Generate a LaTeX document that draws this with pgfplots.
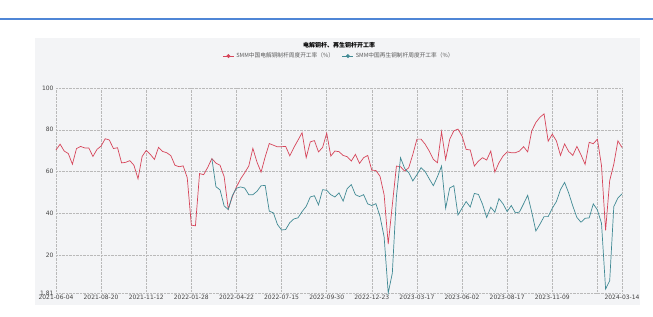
\documentclass[border=0pt]{standalone}
\usepackage{fontspec}
\setmainfont{DejaVu Sans}
\newfontfamily\cjk{Noto Sans CJK SC}
\usepackage{pgfplots}
\usepackage{pgfplotstable}
\pgfplotsset{compat=1.18}
\definecolor{cred}{HTML}{D6455A}
\definecolor{cteal}{HTML}{418A94}
\definecolor{panel}{HTML}{F3F4F6}
\definecolor{topblue}{HTML}{4F86D6}
\definecolor{ticktext}{HTML}{444444}

\pgfplotstableread{
idx val
0 70.3
1 73.1
2 69.8
3 68.6
4 63.5
5 71.0
6 72.0
7 71.3
8 71.3
9 67.2
10 70.6
11 72.2
12 75.7
13 75.1
14 71.0
15 71.4
16 64.1
17 64.4
18 65.2
19 63.0
20 56.5
21 67.2
22 70.1
23 68.2
24 65.8
25 71.6
26 69.6
27 69.0
28 67.6
29 63.0
30 62.3
31 62.7
32 57.0
33 34.3
34 34.0
35 59.0
36 58.5
37 62.0
38 66.2
39 64.0
40 63.0
41 57.5
42 42.0
43 48.0
44 52.6
45 56.4
46 59.4
47 62.6
48 71.1
49 64.5
50 59.7
51 67.0
52 73.4
53 72.6
54 71.8
55 71.9
56 72.0
57 67.5
58 71.5
59 75.0
60 78.6
61 66.6
62 74.2
63 74.8
64 69.4
65 71.5
66 78.4
67 67.4
68 69.8
69 69.5
70 67.7
71 67.1
72 65.0
73 68.2
74 63.9
75 66.6
76 67.7
77 60.6
78 60.5
79 57.7
80 48.9
81 25.2
82 44.0
83 62.6
84 62.3
85 60.2
86 61.8
87 68.2
88 75.5
89 75.5
90 73.1
91 69.8
92 65.8
93 64.2
94 79.0
95 65.8
96 75.5
97 79.5
98 80.3
99 77.0
100 70.6
101 70.3
102 62.6
103 65.0
104 66.6
105 65.5
106 69.8
107 59.7
108 64.2
109 67.4
110 69.4
111 69.0
112 69.0
113 69.8
114 71.9
115 69.4
116 79.5
117 83.5
118 86.0
119 87.6
120 74.5
121 77.9
122 74.7
123 67.7
124 73.2
125 69.6
126 67.7
127 72.0
128 68.0
129 63.4
130 74.0
131 73.3
132 75.5
133 62.8
134 31.8
135 55.7
136 63.5
137 74.7
138 71.5
}\redtable

\pgfplotstableread{
idx val
38 66.2
39 52.7
40 51.2
41 43.5
42 41.8
43 48.5
44 52.0
45 52.6
46 52.1
47 48.9
48 48.9
49 50.5
50 53.2
51 53.3
52 41.0
53 40.2
54 34.6
55 32.0
56 32.2
57 35.5
58 37.3
59 37.8
60 40.8
61 43.3
62 47.8
63 48.4
64 44.0
65 51.3
66 51.0
67 48.9
68 47.8
69 49.8
70 45.8
71 51.8
72 53.7
73 48.9
74 48.0
75 48.9
76 44.5
77 43.7
78 44.6
79 38.5
80 28.7
81 1.81
82 11.3
83 48.0
84 66.6
85 61.5
86 59.5
87 55.5
88 58.5
89 61.8
90 60.0
91 56.5
92 53.2
93 57.5
94 62.6
95 42.4
96 52.1
97 53.2
98 39.2
99 42.4
100 45.6
101 43.0
102 49.5
103 49.0
104 44.3
105 38.0
106 42.9
107 40.5
108 47.0
109 44.5
110 40.8
111 43.7
112 40.2
113 40.6
114 44.5
115 48.6
116 40.5
117 31.5
118 34.8
119 38.4
120 38.4
121 42.4
122 45.6
123 51.3
124 54.8
125 49.7
126 43.5
127 38.0
128 35.7
129 37.6
130 37.8
131 44.5
132 41.6
133 35.2
134 3.7
135 7.7
136 43.2
137 47.3
138 49.3
}\greentable

\begin{document}
\begin{tikzpicture}
\path[use as bounding box] (0pt,0pt) rectangle (653pt,316pt);
\fill[white] (0pt,0pt) rectangle (653pt,316pt);
\fill[panel] (35pt,11pt) rectangle (640pt,278pt);
\draw[topblue, line width=2pt] (0pt,297pt) -- (653pt,297pt);
\begin{axis}[
  at={(56pt,23pt)}, anchor=south west,
  scale only axis, width=566pt, height=205pt,
  xmin=0, xmax=138, ymin=1.81, ymax=100,
  axis line style={draw=none},
  major tick length=0pt,
  xtick={0,11,22,33,44,55,66,77,88,99,110,121,132,138},
  xticklabels={2021-06-04,2021-08-20,2021-11-12,2022-01-28,2022-04-22,2022-07-15,2022-09-30,2022-12-23,2023-03-17,2023-06-02,2023-08-17,2023-11-09,,2024-03-14},
  ytick={1.81,20,40,60,80,100},
  yticklabels={1.81,20,40,60,80,100},
  grid=major,
  major grid style={densely dotted, gray!55, line width=0.45pt},
  tick label style={font=\fontsize{6}{7}\selectfont, text=ticktext},
  /pgf/number format/assume math mode=true,
  xticklabel style={yshift=1pt},
  yticklabel style={xshift=1pt},
  legend columns=2,
  legend style={draw=none, fill=none, at={(0.5,1.156)}, anchor=center,
    font=\cjk\fontsize{5.7}{6.7}\selectfont, text=black!65,
    /tikz/every even column/.append style={column sep=6pt}},
  legend image code/.code={\draw[#1,line width=0.8pt] (0pt,0pt) -- (11pt,0pt); \fill[#1] (5.5pt,0pt) circle (1.6pt);},
  clip=false,
]
\addplot[cred, line width=0.7pt, mark=none] table[x=idx,y=val] {\redtable};
\addlegendentry{SMM中国电解铜制杆周度开工率（\%）}
\addplot[cteal, line width=0.7pt, mark=none] table[x=idx,y=val] {\greentable};
\addlegendentry{SMM中国再生铜制杆周度开工率（\%）}
\node[font=\cjk\bfseries\fontsize{6}{7}\selectfont, text=black] at (axis description cs:0.5,1.21) {电解铜杆、再生铜杆开工率};
\end{axis}
\end{tikzpicture}
\end{document}
